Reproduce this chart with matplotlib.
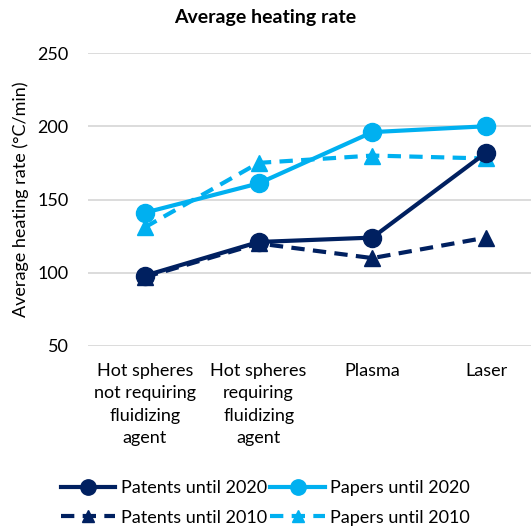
import numpy as np
import matplotlib.pyplot as plt

plt.rcParams['font.family'] = ['Lato', 'DejaVu Sans']

categories = ['Hot spheres\nnot requiring\nfluidizing\nagent',
              'Hot spheres\nrequiring\nfluidizing\nagent',
              'Plasma', 'Laser']
patents_2020 = [98, 121, 124, 182]
papers_2020 = [141, 161, 196, 200]
patents_2010 = [97, 120, 110, 124]
papers_2010 = [131, 175, 180, 178]

dark = '#002060'
light = '#00B0F0'

fig = plt.figure(figsize=(5.31, 5.31), dpi=100)
ax = fig.add_axes([88 / 531, 1 - 346 / 531, (543 - 88) / 531, (346 - 53) / 531])

x = np.arange(len(categories))
l3, = ax.plot(x, patents_2010, color=dark, lw=3, ls=(0, (3.2, 2)), marker='^', ms=11,
              label='Patents until 2010', zorder=3)
l4, = ax.plot(x, papers_2010, color=light, lw=3, ls=(0, (3.2, 2)), marker='^', ms=11,
              label='Papers until 2010', zorder=3)
l1, = ax.plot(x, patents_2020, color=dark, lw=3, marker='o', ms=13,
              label='Patents until 2020', zorder=4)
l2, = ax.plot(x, papers_2020, color=light, lw=3, marker='o', ms=13,
              label='Papers until 2020', zorder=4)

ax.set_xlim(-0.5, 3.5)
ax.set_ylim(50, 250)
ax.set_yticks([50, 100, 150, 200, 250])
ax.set_xticks(x)
ax.set_xticklabels(categories, fontsize=13, color='#000000', linespacing=1.5)
ax.tick_params(axis='y', length=0, labelsize=13, pad=14)
ax.tick_params(axis='x', length=0, pad=12)
ax.grid(axis='y', color='#D9D9D9', lw=1.3)
ax.set_axisbelow(True)
for s in ax.spines.values():
    s.set_visible(False)

ax.set_ylabel('Average heating rate (°C/min)', fontsize=13, labelpad=6)
fig.text(0.5, 1 - 18 / 531, 'Average heating rate', ha='center', va='center',
         fontsize=14, fontweight='bold')

fig.legend(handles=[l1, l3, l2, l4], ncol=2, loc='center', bbox_to_anchor=(0.5, 1 - 503 / 531),
           frameon=False, fontsize=13, handlelength=3.0, handletextpad=0.3,
           columnspacing=0.2, labelspacing=0.75, markerscale=0.85)

fig.savefig('out.png', dpi=100)
